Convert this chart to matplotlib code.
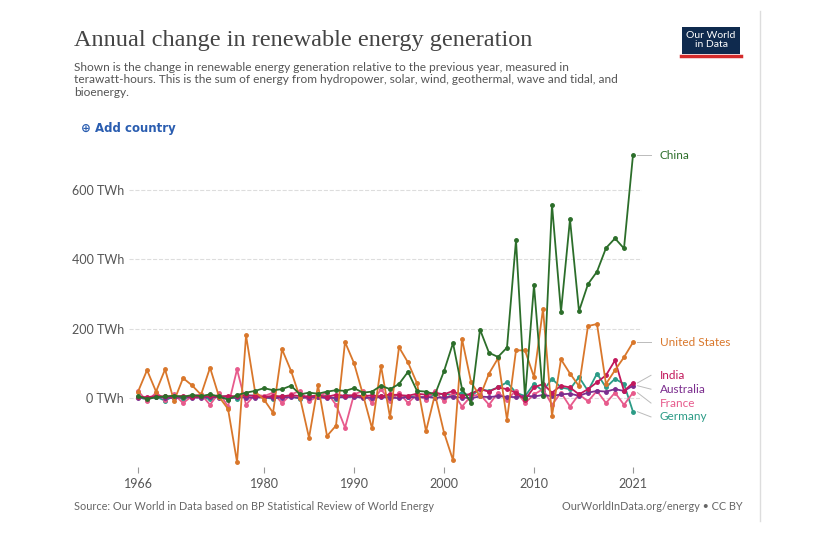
import numpy as np
import matplotlib.pyplot as plt

years = list(range(1966, 2022))

china = [5, -3, 2, 4, 6, 3, 8, 5, 10, 4, -5, 8, 15, 20, 28, 22, 25, 35, 10, 15, 12, 18, 22, 20, 28, 15, 18, 35, 25, 40, 75, 20, 18, 10,
         77, 158, 26, -14, 197, 130, 118, 145, 455, 0, 325, 4, 557, 248, 515, 250, 328, 364, 432, 460, 431, 700]
usa = [18, 80, 18, 82, -9, 57, 36, 9, 87, 3, -32, -185, 180, 18, -5, -43, 140, 78, 0, -115, 36, -110, -80, 161, 100, 9, -88, 92, -56, 146,
       102, 42, -96, 10, -100, -180, 170, 46, 4, 70, 114, -63, 137, 137, 60, 257, -52, 111, 70, 34, 207, 213, 40, 80, 117, 160]
india = [3, 2, 5, 4, 3, 6, 2, 4, 5, 3, 6, 4, 8, 5, 2, 6, 4, 8, 5, 4, 7, 3, 9, 6, 8, 5, 7, 4, 10, 8, 6, 12, 9, 15,
         10, 20, 5, 12, 25, 18, 30, 25, 15, -5, 30, 40, 15, 35, 30, 10, 25, 45, 65, 108, 20, 43]
australia = [1, 0, 2, 1, -1, 2, 1, 0, 3, 1, -2, 2, 1, 0, 2, -1, 1, 2, 0, 1, 2, -1, 1, 2, 3, 0, 1, 2, 1, -1, 2, 1, 3, 0,
             2, 3, 1, -1, 4, 2, 5, 3, 2, 6, 4, 8, 5, 10, 12, 6, 15, 20, 18, 25, 20, 35]
france = [20, -10, 15, -5, 10, -15, 5, 10, -20, 15, -25, 82, -20, 10, 5, 15, -15, 10, 20, -10, 5, 15, -20, -86, 10, 20, -15, 25, -10, 15,
          -15, 10, -5, 20, -10, 15, -25, 5, 10, -20, 15, -5, 20, -15, 10, 25, -20, 15, -25, 10, -10, 20, -15, 15, -20, 15]
germany = [2, -5, 3, -8, 5, -3, 4, 2, -4, 6, 3, -2, 5, 8, 2, -3, 6, 4, -2, 5, 3, 6, -4, 8, 5, 2, -3, 6, 4, 8, 2, 5, -2, 10,
           12, 8, 15, 5, 25, 20, 30, 45, 15, 5, 40, 20, 55, 30, 25, 60, 20, 70, 30, 55, 40, -40]

series = [
    ("China", china, "#2c6e2a"),
    ("United States", usa, "#d9772b"),
    ("India", india, "#c2185b"),
    ("Australia", australia, "#7b2d8e"),
    ("France", france, "#e75a8c"),
    ("Germany", germany, "#2b9b86"),
]
label_y = {"China": 700, "United States": 160, "India": 65, "Australia": 25, "France": -15, "Germany": -55}

fig = plt.figure(figsize=(8.22, 5.37), dpi=100, facecolor='white')
ax = fig.add_axes([0.157, 0.130, 0.624, 0.594])

for name, vals, col in series[::-1]:
    ax.plot(years, vals, color=col, linewidth=1.3, marker='o', markersize=2.5)
for name, vals, col in series:
    ax.plot([2021.5, 2023], [vals[-1], label_y[name]], color='#bbbbbb', linewidth=0.7, clip_on=False)
    ax.text(2024, label_y[name], name, color=col, fontsize=8.5, va='center', family='Lato')

ax.set_xlim(1965, 2022)
ax.set_ylim(-200, 720)
ax.set_yticks([0, 200, 400, 600])
ax.set_yticklabels(['0 TWh', '200 TWh', '400 TWh', '600 TWh'], family='Lato', color='#555555', fontsize=9)
ax.set_xticks([1966, 1980, 1990, 2000, 2010, 2021])
ax.set_xticklabels(['1966', '1980', '1990', '2000', '2010', '2021'], family='Lato', color='#555555', fontsize=9)
ax.grid(axis='y', linestyle='--', color='#dddddd', linewidth=0.8)
for s in ['top', 'right', 'left', 'bottom']:
    ax.spines[s].set_visible(False)
ax.tick_params(axis='y', length=0)
ax.tick_params(axis='x', length=4, color='#999999')

fig.text(0.09, 0.915, 'Annual change in renewable energy generation', family='Liberation Serif', fontsize=17.5, color='#444444')
fig.text(0.09, 0.822, 'Shown is the change in renewable energy generation relative to the previous year, measured in\n'
         'terawatt-hours. This is the sum of energy from hydropower, solar, wind, geothermal, wave and tidal, and\n'
         'bioenergy.', family='Lato', fontsize=8.6, color='#555555', linespacing=1.15)
fig.text(0.098, 0.755, '\u2295 Add country', family='DejaVu Sans', fontsize=8.5, color='#2a5db0', fontweight='bold')
fig.text(0.09, 0.05, 'Source: Our World in Data based on BP Statistical Review of World Energy', family='Lato', fontsize=7.8, color='#666666')
fig.text(0.903, 0.05, 'OurWorldInData.org/energy \u2022 CC BY', family='Lato', fontsize=7.8, color='#666666', ha='right')
fig.text(0.865, 0.925, 'Our World\nin Data', ha='center', va='center', fontsize=7.5, color='white', family='Lato',
         linespacing=0.95, bbox=dict(boxstyle='square,pad=0.45', facecolor='#0f2a4e', edgecolor='none'))
fig.add_artist(plt.Line2D([0.828, 0.902], [0.896, 0.896], color='#d42b2b', linewidth=2.5))
fig.add_artist(plt.Line2D([0.925, 0.925], [0.03, 0.98], color='#dddddd', linewidth=1))

fig.savefig('out.png', facecolor='white')
